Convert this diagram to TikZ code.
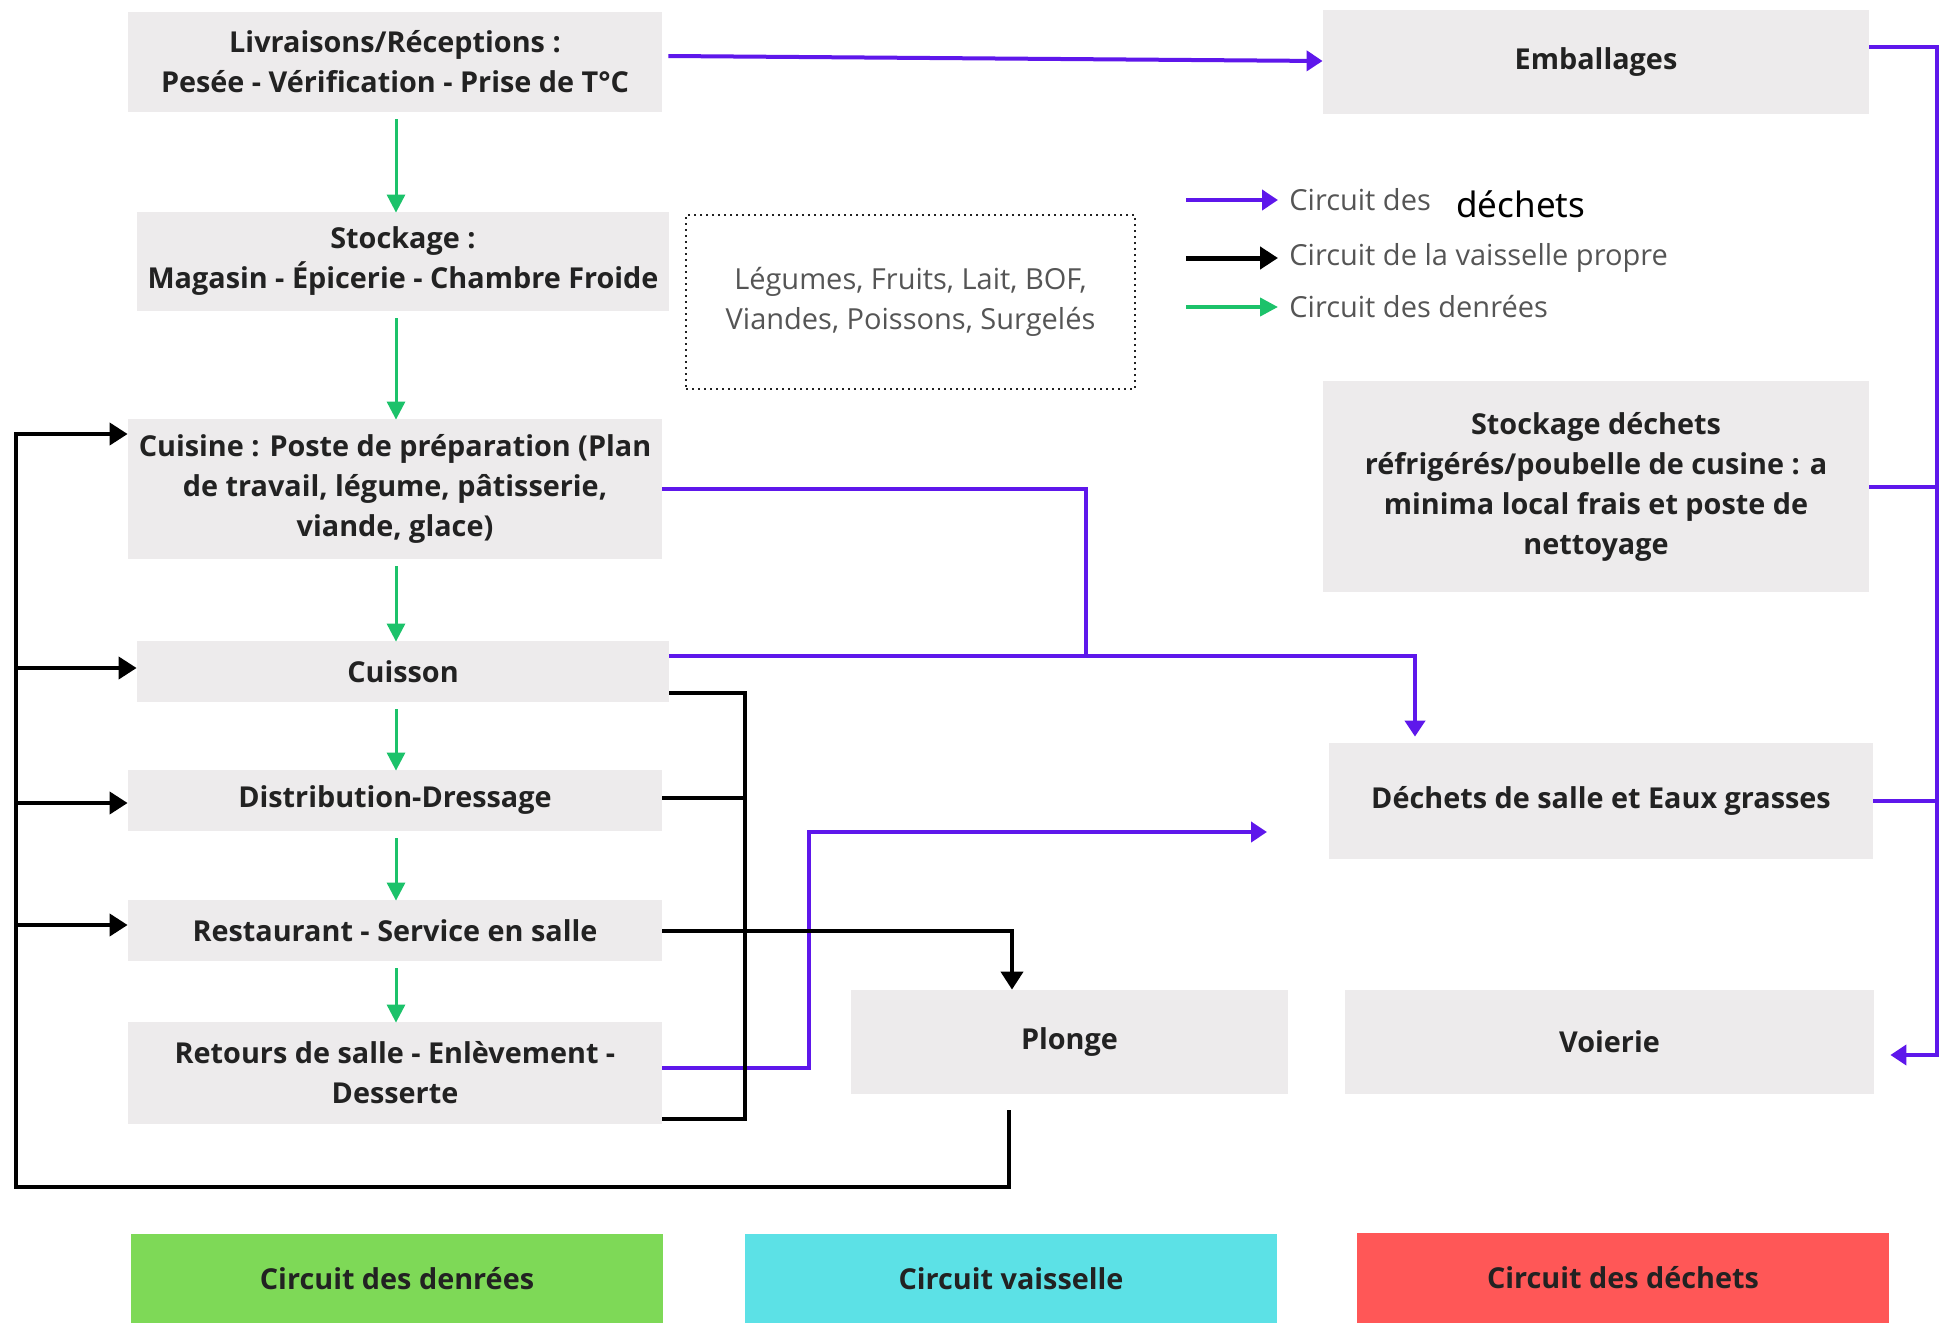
\documentclass[tikz,border=0pt]{standalone}
\usepackage{fontspec}
\setmainfont{Open Sans}
\newfontfamily\legfont{Noto Sans}
\usetikzlibrary{arrows.meta}

\definecolor{boxgray}{HTML}{EDEBEC}
\definecolor{wastepurple}{HTML}{5E17EB}
\definecolor{foodgreen}{HTML}{1CC26A}
\definecolor{txtdark}{HTML}{222222}
\definecolor{txtgray}{HTML}{555555}
\definecolor{bandgreen}{HTML}{7ED957}
\definecolor{bandcyan}{HTML}{5CE1E6}
\definecolor{bandred}{HTML}{FF5757}

\newcommand{\boxtxt}{\bfseries\fontsize{14.4}{20}\selectfont}
\newcommand{\legtxt}{\fontsize{14.5}{20}\selectfont}

\tikzset{
  stepbox/.style={fill=boxgray, inner sep=0pt, align=center, text=txtdark, font=\boxtxt},
  bandbox/.style={inner sep=0pt, align=center, text=txtdark, font=\boxtxt,
    minimum width=266pt, minimum height=45pt},
  waste/.style={draw=wastepurple, line width=2pt},
  dish/.style={draw=black, line width=2pt},
  food/.style={draw=foodgreen, line width=1.5pt},
  wastetip/.style={-{Triangle[length=8pt,width=10pt]}},
  dishtip/.style={-{Triangle[length=9pt,width=11pt]}},
  foodtip/.style={-{Triangle[length=9pt,width=9pt]}},
}

\begin{document}
\begin{tikzpicture}[x=0.5pt,y=-0.5pt]
  \useasboundingbox[fill=white] (0,0) rectangle (1951,1323);

  % Left column: food circuit
  \node[stepbox, minimum width=267pt, minimum height=50pt] (liv) at (395,62)
    {Livraisons/Réceptions :\\Pesée - Vérification - Prise de T°C};
  \node[stepbox, minimum width=266pt, minimum height=49.5pt] (stock) at (403,261.5)
    {Stockage :\\Magasin - Épicerie - Chambre Froide};
  \node[stepbox, minimum width=267pt, minimum height=70pt] (cuisine) at (395,489)
    {Cuisine : Poste de préparation (Plan\\de travail, légume, pâtisserie,\\viande, glace)};
  \node[stepbox, minimum width=266pt, minimum height=30.5pt] (cuisson) at (403,671.5) {Cuisson};
  \node[stepbox, minimum width=267pt, minimum height=30.5pt] (distrib) at (395,800.5) {Distribution-Dressage};
  \node[stepbox, minimum width=267pt, minimum height=30.5pt] (resto) at (395,930.5) {Restaurant - Service en salle};
  \node[stepbox, minimum width=267pt, minimum height=51pt] (retours) at (395,1073)
    {Retours de salle - Enlèvement -\\Desserte};

  % Products note
  \node[draw=txtdark, dotted, line width=1pt, minimum width=224.5pt, minimum height=87pt,
        align=center, text=txtgray, font=\legtxt] (produits) at (910.5,302)
    {Légumes, Fruits, Lait, BOF,\\Viandes, Poissons, Surgelés};

  % Right column: waste circuit
  \node[stepbox, minimum width=273pt, minimum height=52pt] (emb) at (1596,62) {Emballages};
  \node[stepbox, minimum width=273pt, minimum height=105.5pt] (stockdech) at (1596,486.5)
    {Stockage déchets\\réfrigérés/poubelle de cusine : a\\minima local frais et poste de\\nettoyage};
  \node[stepbox, minimum width=272pt, minimum height=58pt] (dechsalle) at (1601,801)
    {Déchets de salle et Eaux grasses};
  \node[stepbox, minimum width=218.5pt, minimum height=52pt] (plonge) at (1069.5,1042) {Plonge};
  \node[stepbox, minimum width=264.5pt, minimum height=52pt] (voierie) at (1609.5,1042) {Voierie};

  % Legend
  \node[anchor=west, inner sep=0pt, text=txtgray, font=\legtxt] (legwaste) at (1289,200) {Circuit des};
  \node[anchor=west, inner sep=0pt, text=black, font=\legfont\fontsize{17.5}{20}\selectfont] (legword) at (1456,204) {déchets};
  \node[anchor=west, inner sep=0pt, text=txtgray, font=\legtxt] (legdish) at (1289,258) {Circuit de la vaisselle propre};
  \node[anchor=west, inner sep=0pt, text=txtgray, font=\legtxt] (legfood) at (1289,307) {Circuit des denrées};
  \draw[waste, wastetip] ([xshift=-51.5pt]legwaste.west) -- ([xshift=-5.5pt]legwaste.west);
  \draw[dish, dishtip, line width=2.5pt] ([xshift=-51.5pt]legdish.west) -- ([xshift=-5.5pt]legdish.west);
  \draw[food, foodtip, line width=2pt] ([xshift=-51.5pt]legfood.west) -- ([xshift=-5.5pt]legfood.west);

  % Bottom bands
  \node[bandbox, fill=bandgreen] (bandfood) at (397,1279) {Circuit des denrées};
  \node[bandbox, fill=bandcyan] (banddish) at (1011,1279) {Circuit vaisselle};
  \node[bandbox, fill=bandred] (bandwaste) at (1623,1278) {Circuit des déchets};

  % Food arrows
  \foreach \a/\b in {liv/stock, stock/cuisine, cuisine/cuisson, cuisson/distrib, distrib/resto, resto/retours}
    \draw[food, foodtip, shorten <=3.5pt, shorten >=-0.5pt] (\a.south -| 396,0) -- (\b.north -| 396,0);

  % Waste arrows
  \coordinate (rail) at (1937,47);
  \coordinate (jct) at (1086,656);
  \coordinate (salleend) at (1267,832);
  \draw[waste, wastetip] ([xshift=3pt,yshift=3pt]liv.east) -- ([yshift=0.5pt]emb.west);
  \draw[waste, wastetip] ([yshift=7.5pt]emb.east) -- (rail) |- ([xshift=8pt,yshift=-6.5pt]voierie.east);
  \draw[waste] (stockdech.east) -- (stockdech.east -| rail);
  \draw[waste] (dechsalle.east) -- (dechsalle.east -| rail);
  \draw[waste] (cuisine.east) -| (jct);
  \draw[waste, wastetip] ([yshift=7.75pt]cuisson.east) -| ([xshift=-93pt,yshift=3pt]dechsalle.north);
  \draw[waste, wastetip] ([yshift=2.5pt]retours.east) -| (809,832) -- (salleend);

  % Dishes circuit
  \coordinate (bus) at (745,693);
  \coordinate (loop) at (16,1187);
  \coordinate (distribout) at ([yshift=1.25pt]distrib.east);
  \coordinate (cuissonin) at ([yshift=1.75pt]cuisson.west);
  \coordinate (distribin) at ([yshift=-1.25pt]distrib.west);
  \coordinate (restoin) at ([yshift=2.75pt]resto.west);
  \draw[dish] ([yshift=-10.75pt]cuisson.east) -| (745,1119) -- ([yshift=-23pt]retours.east);
  \draw[dish] (distribout) -- (distribout -| bus);
  \draw[dish, dishtip] (resto.east) -| ([xshift=-28.75pt]plonge.north);
  \draw[dish, dishtip] ([xshift=-30.25pt,yshift=-8pt]plonge.south) |- (loop) |- ([yshift=27.5pt]cuisine.west);
  \draw[dish, dishtip] (loop |- cuissonin) -- (cuissonin);
  \draw[dish, dishtip] (loop |- distribin) -- (distribin);
  \draw[dish, dishtip] (loop |- restoin) -- (restoin);
\end{tikzpicture}
\end{document}
